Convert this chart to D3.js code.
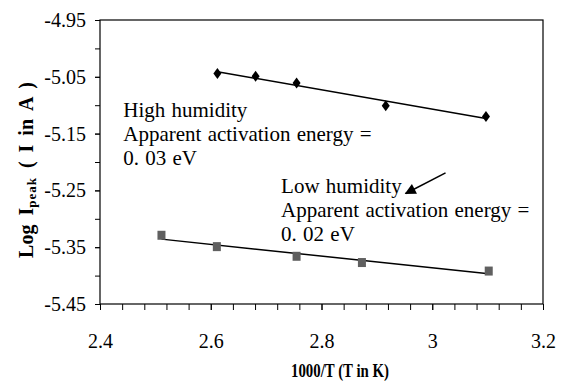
<!DOCTYPE html>
<html>
<head>
<meta charset="utf-8">
<script src="https://cdn.jsdelivr.net/npm/d3@7"></script>
<style>
  body { margin: 0; background: #fff; }
  svg text { font-family: "Liberation Serif", "Times New Roman", Times, "DejaVu Serif", serif; }
  .axis text { font-size: 20px; fill: #000; }
  .axis line, .axis path { stroke: #000; }
</style>
</head>
<body>
<svg id="graph" width="565" height="382"></svg>
<script>
// values
const highX = [2.612, 2.681, 2.755, 2.916, 3.097];
const highY = [-5.044, -5.049, -5.061, -5.101, -5.120];
const lowX = [2.511, 2.611, 2.755, 2.873, 3.102];
const lowY = [-5.329, -5.349, -5.366, -5.377, -5.392];

const xTicks = [2.4, 2.6, 2.8, 3.0, 3.2];
const yTicks = [-4.95, -5.05, -5.15, -5.25, -5.35, -5.45];

const highLines = ['High humidity', 'Apparent activation energy =', '0. 03 eV'];
const lowLines = ['Low humidity', 'Apparent activation energy =', '0. 02 eV'];

const svg = d3.select('#graph');
const plotL = 100, plotR = 543, plotT = 20, plotB = 304;

const x = d3.scaleLinear().domain([2.4, 3.2]).range([plotL, plotR]);
const y = d3.scaleLinear().domain([-5.45, -4.95]).range([plotB, plotT]);

// minor ticks every 0.04 on x, every 0.05 on y
const xMinor = d3.range(0, 21).map(i => +(2.4 + i * 0.04).toFixed(2));
const yMinor = d3.range(0, 11).map(i => +(-4.95 - i * 0.05).toFixed(2));

svg.append('g')
  .attr('class', 'axis')
  .attr('transform', `translate(0,${plotB})`)
  .call(d3.axisBottom(x).tickValues(xMinor).tickSize(6).tickSizeOuter(0).tickFormat(''));

svg.append('g')
  .attr('class', 'axis')
  .attr('transform', `translate(0,${plotB})`)
  .call(d3.axisBottom(x).tickValues(xTicks).tickSize(6).tickSizeOuter(0).tickPadding(24)
    .tickFormat(d => String(+d.toFixed(1))));

svg.append('g')
  .attr('class', 'axis')
  .attr('transform', `translate(${plotL},0)`)
  .call(d3.axisLeft(y).tickValues(yMinor).tickSize(5).tickSizeOuter(0).tickFormat(''));

svg.append('g')
  .attr('class', 'axis')
  .attr('transform', `translate(${plotL},0)`)
  .call(d3.axisLeft(y).tickValues(yTicks).tickSize(5).tickSizeOuter(0).tickPadding(9)
    .tickFormat(d => d.toFixed(2)));

svg.selectAll('.axis .domain').remove();
svg.selectAll('.axis').attr('font-family', null).attr('font-size', null);

// plot frame
svg.append('rect')
  .attr('x', plotL).attr('y', plotT)
  .attr('width', plotR - plotL).attr('height', plotB - plotT)
  .attr('fill', 'none').attr('stroke', '#000').attr('stroke-width', 1.2);

function trend(xs, ys) {
  const mx = d3.mean(xs), my = d3.mean(ys);
  let sxy = 0, sxx = 0;
  xs.forEach((v, i) => { sxy += (v - mx) * (ys[i] - my); sxx += (v - mx) * (v - mx); });
  const b = sxy / sxx;
  const x0 = d3.min(xs), x1 = d3.max(xs);
  return [[x0, my + b * (x0 - mx)], [x1, my + b * (x1 - mx)]];
}

const line = d3.line().x(d => x(d[0])).y(d => y(d[1]));

function drawSeries(xs, ys, symbol, color, w, h) {
  svg.append('path')
    .attr('d', line(trend(xs, ys)))
    .attr('fill', 'none')
    .attr('stroke', '#000')
    .attr('stroke-width', 1.5);
  const pts = xs.map((v, i) => [v, ys[i]]);
  if (symbol === 'diamond') {
    svg.selectAll(null).data(pts).enter().append('path')
      .attr('d', d => {
        const cx = x(d[0]), cy = y(d[1]);
        return `M${cx},${cy - h / 2}L${cx + w / 2},${cy}L${cx},${cy + h / 2}L${cx - w / 2},${cy}Z`;
      })
      .attr('fill', color);
  } else {
    svg.selectAll(null).data(pts).enter().append('rect')
      .attr('x', d => x(d[0]) - w / 2)
      .attr('y', d => y(d[1]) - h / 2)
      .attr('width', w).attr('height', h)
      .attr('fill', color);
  }
}

drawSeries(highX, highY, 'diamond', '#000', 8, 11);
drawSeries(lowX, lowY, 'square', '#606060', 8, 9);

// annotations
function annotate(lines, x0, y0) {
  svg.append('g').selectAll('text').data(lines).enter().append('text')
    .attr('x', x(x0))
    .attr('y', (d, i) => y(y0) + i * 24)
    .attr('font-size', 21)
    .attr('word-spacing', 1)
    .text(d => d);
}
annotate(highLines, 2.442, -5.121);
annotate(lowLines, 2.727, -5.2545);

svg.append('defs').append('marker')
  .attr('id', 'head')
  .attr('viewBox', '0 0 10 10')
  .attr('refX', 9).attr('refY', 5)
  .attr('markerWidth', 12).attr('markerHeight', 11)
  .attr('markerUnits', 'userSpaceOnUse')
  .attr('orient', 'auto')
  .append('path').attr('d', 'M0,0L10,5L0,10Z').attr('fill', '#000');

svg.append('line')
  .attr('x1', x(3.024)).attr('y1', y(-5.219))
  .attr('x2', x(2.952)).attr('y2', y(-5.2555))
  .attr('stroke', '#000').attr('stroke-width', 1.5)
  .attr('marker-end', 'url(#head)');

// axis titles
svg.append('text')
  .attr('x', 340).attr('y', 377)
  .attr('text-anchor', 'middle')
  .attr('font-weight', 'bold')
  .attr('font-size', 18)
  .attr('textLength', 98)
  .attr('lengthAdjust', 'spacingAndGlyphs')
  .text('1000/T (T in K)');

const yt = svg.append('text')
  .attr('transform', 'translate(33,170) rotate(-90)')
  .attr('text-anchor', 'middle')
  .attr('font-weight', 'bold')
  .attr('font-size', 20)
  .attr('word-spacing', 4);
yt.append('tspan').text('Log I');
yt.append('tspan').attr('font-size', 13).attr('dy', 3).attr('letter-spacing', 1).text('peak');
yt.append('tspan').attr('dy', -3).text(' ( I in A )');
</script>
</body>
</html>
